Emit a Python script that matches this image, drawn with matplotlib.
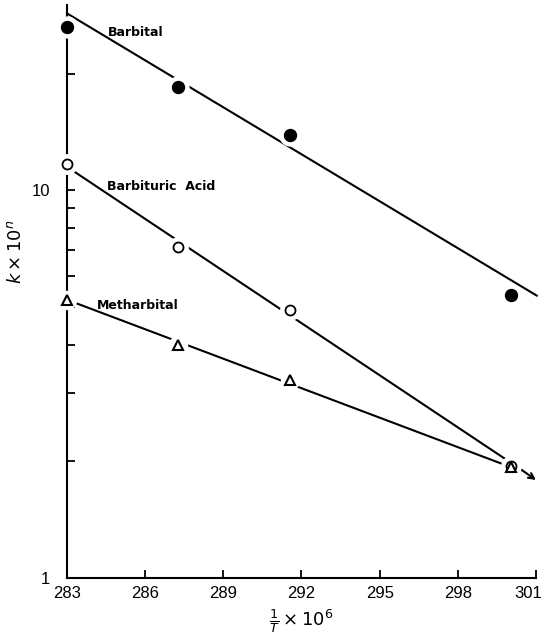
import matplotlib.pyplot as plt
from matplotlib.ticker import FixedLocator, NullFormatter
from matplotlib.transforms import ScaledTranslation

# 1/T x 10^6 at the measured temperatures
inv_t = [283.0, 287.25, 291.55, 300.05]

# k x 10^n for each compound
barbital = [26.3, 18.5, 13.9, 5.38]
barbituric = [11.7, 7.12, 4.92, 1.94]
metharbital = [5.22, 3.99, 3.24, 1.93]

# fitted straight lines (end points)
barbital_fit_x = [283.0, 301.03]
barbital_fit_y = [28.6, 5.35]
barbituric_fit_x = [283.0, 300.45]
barbituric_fit_y = [11.5, 1.9]
metharbital_fit_x = [283.0, 300.05]
metharbital_fit_y = [5.22, 1.93]
arrow_tip = (301.0, 1.79)

x_ticks = [283, 286, 289, 292, 295, 298, 301]

plt.rcParams['font.family'] = ['Liberation Sans', 'DejaVu Sans']

fig = plt.figure(figsize=(5.42, 6.42), dpi=100)
ax = fig.add_axes([0.1236, 0.0997, 0.8653, 0.892])

# lines
ax.plot(barbital_fit_x, barbital_fit_y, color='black', lw=1.5, zorder=1, clip_on=False)
ax.plot(barbituric_fit_x, barbituric_fit_y, color='black', lw=1.5, zorder=1, clip_on=False)
ax.plot(metharbital_fit_x, metharbital_fit_y, color='black', lw=1.5, zorder=1, clip_on=False)
ax.annotate('', xy=arrow_tip, xytext=(barbituric_fit_x[1], barbituric_fit_y[1]),
            arrowprops=dict(arrowstyle='->', lw=1.5, color='black',
                            shrinkA=0, shrinkB=0), zorder=1)

# white halos break the lines around the points
for ys, size in [(barbital, 15), (barbituric, 14), (metharbital, 13)]:
    ax.plot(inv_t, ys, 'o', ms=size, color='white', mec='white',
            zorder=3, clip_on=False)

ax.plot(inv_t, barbital, 'o', ms=8.6, color='black', zorder=4, clip_on=False)
ax.plot(inv_t, barbituric, 'o', ms=7.2, mfc='white', mec='black', mew=1.3,
        zorder=4, clip_on=False)
ax.plot(inv_t, metharbital, '^', ms=6.5, mfc='white', mec='black', mew=1.5,
        zorder=5, clip_on=False)

# series labels
label_font = dict(fontsize=9, fontweight='bold', family=['DejaVu Sans'], va='center')
ax.text(284.57, 25.5, 'Barbital', **label_font)
ax.text(284.53, 10.2, 'Barbituric  Acid', **label_font)
ax.text(284.15, 5.05, 'Metharbital', **label_font)

ax.set_yscale('log')
ax.set_xlim(283, 301)
ax.set_ylim(1, 30)

ax.set_xticks(x_ticks)
ax.set_xticklabels([str(v) for v in x_ticks])
ax.yaxis.set_major_locator(FixedLocator([1, 10]))
ax.set_yticklabels(['1', '10'])
ax.yaxis.set_minor_locator(FixedLocator([2, 3, 4, 5, 6, 7, 8, 9, 20]))
ax.yaxis.set_minor_formatter(NullFormatter())

ax.tick_params(axis='both', which='both', direction='in', labelsize=12,
               width=1.3, length=6)
ax.tick_params(axis='y', which='both', pad=12)
ax.tick_params(axis='x', pad=6)

# last x label sits a little inside the edge
last = ax.get_xticklabels()[-1]
last.set_transform(last.get_transform() + ScaledTranslation(-8 / 100, 0, fig.dpi_scale_trans))

for side in ['top', 'right']:
    ax.spines[side].set_visible(False)
for side in ['left', 'bottom']:
    ax.spines[side].set_linewidth(1.5)

ax.set_xlabel(r'$\frac{1}{T}\times 10^6$', fontsize=13, labelpad=4)
ax.set_ylabel(r'$k\times 10^n$', fontsize=13)
ax.yaxis.set_label_coords(-0.09, 0.57)

fig.savefig('out.png', dpi=100)
